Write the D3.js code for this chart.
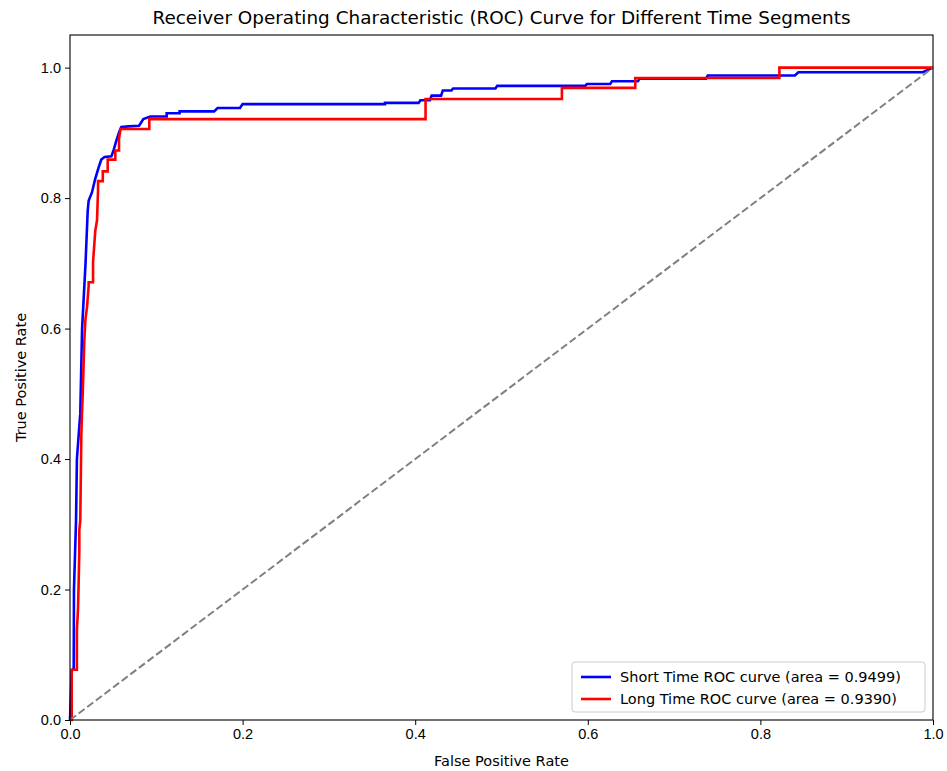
<!DOCTYPE html>
<html lang="en">
<head>
  <meta charset="UTF-8">
  <title>ROC Curve</title>
  <script src="https://d3js.org/d3.v7.min.js"></script>
  <style>
    body {
      margin: 0;
      padding: 0;
      background: #fff;
      font-family: "DejaVu Sans", sans-serif;
    }
    .tick text {
      font-size: 14.5px;
      fill: #000;
    }
  </style>
</head>
<body>
  <div id="chart"></div>

  <script>
    // Short time ROC curve: false positive rate / true positive rate
    const shortFpr = [0, 0.002, 0.0043, 0.0046, 0.007, 0.008, 0.0119, 0.014, 0.018, 0.0205, 0.0216,
      0.0255, 0.0293, 0.0332, 0.0363, 0.040, 0.048, 0.0506, 0.0537, 0.0572, 0.0595, 0.068, 0.080,
      0.085, 0.093, 0.112, 0.112, 0.127, 0.127, 0.167, 0.171, 0.197, 0.200, 0.365, 0.365, 0.404,
      0.406, 0.417, 0.419, 0.430, 0.432, 0.442, 0.444, 0.493, 0.495, 0.597, 0.599, 0.626, 0.628,
      0.658, 0.660, 0.737, 0.739, 0.840, 0.844, 0.988, 1.0];
    const shortTpr = [0, 0.075, 0.08, 0.2, 0.306, 0.4, 0.47, 0.6, 0.7, 0.78, 0.796,
      0.809, 0.830, 0.847, 0.859, 0.863, 0.864, 0.874, 0.888, 0.902, 0.909, 0.910, 0.911,
      0.921, 0.925, 0.925, 0.930, 0.930, 0.933, 0.933, 0.938, 0.938, 0.944, 0.944, 0.946, 0.946,
      0.950, 0.950, 0.957, 0.957, 0.965, 0.965, 0.968, 0.968, 0.972, 0.972, 0.975, 0.975, 0.979,
      0.979, 0.983, 0.983, 0.988, 0.988, 0.993, 0.993, 1.0];

    // Long time ROC curve
    const longFpr = [0, 0.002, 0.002, 0.008, 0.008, 0.0093, 0.010, 0.0108, 0.0108, 0.0119, 0.0124,
      0.0131, 0.0139, 0.0147, 0.0166, 0.0178, 0.0197, 0.0216, 0.0216, 0.0267, 0.0267, 0.0293,
      0.0313, 0.0325, 0.0325, 0.038, 0.038, 0.0437, 0.0437, 0.0525, 0.0525, 0.0568, 0.0568,
      0.0585, 0.0919, 0.0919, 0.412, 0.412, 0.570, 0.570, 0.655, 0.655, 0.822, 0.822, 1.0];
    const longTpr = [0, 0, 0.077, 0.077, 0.138, 0.171, 0.209, 0.26, 0.291, 0.306, 0.357,
      0.434, 0.470, 0.498, 0.582, 0.613, 0.633, 0.665, 0.671, 0.671, 0.702, 0.75,
      0.766, 0.812, 0.826, 0.826, 0.841, 0.841, 0.859, 0.859, 0.873, 0.873, 0.891,
      0.906, 0.906, 0.921, 0.921, 0.952, 0.952, 0.969, 0.969, 0.984, 0.984, 1.0, 1.0];

    const seriesNames = ["Short Time ROC curve (area = 0.9499)", "Long Time ROC curve (area = 0.9390)"];
    const seriesColors = ["blue", "red"];
    const xTicks = [0, 0.2, 0.4, 0.6, 0.8, 1.0];
    const yTicks = [0, 0.2, 0.4, 0.6, 0.8, 1.0];

    const width = 947;
    const height = 771;
    const margin = { top: 35, right: 14, bottom: 51, left: 70 };

    const svg = d3.select("#chart")
      .append("svg")
      .attr("width", width)
      .attr("height", height);

    const x = d3.scaleLinear()
      .domain([0, 1])
      .range([margin.left, width - margin.right]);

    const y = d3.scaleLinear()
      .domain([0, 1.05])
      .range([height - margin.bottom, margin.top]);

    // Axes
    svg.append("g")
      .attr("transform", `translate(0, ${height - margin.bottom})`)
      .call(d3.axisBottom(x).tickValues(xTicks).tickFormat(d3.format(".1f")).tickSize(5).tickPadding(4))
      .call(g => g.select(".domain").remove());

    svg.append("g")
      .attr("transform", `translate(${margin.left}, 0)`)
      .call(d3.axisLeft(y).tickValues(yTicks).tickFormat(d3.format(".1f")).tickSize(5).tickPadding(4))
      .call(g => g.select(".domain").remove());

    svg.selectAll(".tick line").attr("stroke", "#000").attr("stroke-width", 1);

    // Curves
    const line = d3.line()
      .x(d => x(d[0]))
      .y(d => y(d[1]));

    svg.append("path")
      .datum(d3.zip(shortFpr, shortTpr))
      .attr("fill", "none")
      .attr("stroke", seriesColors[0])
      .attr("stroke-width", 2.6)
      .attr("d", line);

    svg.append("path")
      .datum(d3.zip(longFpr, longTpr))
      .attr("fill", "none")
      .attr("stroke", seriesColors[1])
      .attr("stroke-width", 2.6)
      .attr("d", line);

    // Chance line
    svg.append("path")
      .datum([[0, 0], [1, 1]])
      .attr("fill", "none")
      .attr("stroke", "gray")
      .attr("stroke-width", 2)
      .attr("stroke-dasharray", "7.5,3.3")
      .attr("d", line);

    // Frame
    svg.append("rect")
      .attr("x", margin.left)
      .attr("y", margin.top)
      .attr("width", width - margin.left - margin.right)
      .attr("height", height - margin.top - margin.bottom)
      .attr("fill", "none")
      .attr("stroke", "#000")
      .attr("stroke-width", 1.1);

    // Title and labels
    svg.append("text")
      .attr("x", (margin.left + width - margin.right) / 2)
      .attr("y", 24)
      .attr("text-anchor", "middle")
      .attr("font-size", 18.4)
      .text("Receiver Operating Characteristic (ROC) Curve for Different Time Segments");

    svg.append("text")
      .attr("x", (margin.left + width - margin.right) / 2)
      .attr("y", 766)
      .attr("text-anchor", "middle")
      .attr("font-size", 14.5)
      .text("False Positive Rate");

    svg.append("text")
      .attr("transform", `translate(26, ${(margin.top + height - margin.bottom) / 2}) rotate(-90)`)
      .attr("text-anchor", "middle")
      .attr("font-size", 14.5)
      .text("True Positive Rate");

    // Legend
    const legend = svg.append("g").attr("transform", "translate(572, 662)");
    legend.append("rect")
      .attr("width", 353)
      .attr("height", 50)
      .attr("rx", 3)
      .attr("fill", "#fff")
      .attr("fill-opacity", 0.8)
      .attr("stroke", "#ccc");

    seriesNames.forEach((name, i) => {
      legend.append("line")
        .attr("x1", 9).attr("x2", 39)
        .attr("y1", 15 + i * 22).attr("y2", 15 + i * 22)
        .attr("stroke", seriesColors[i])
        .attr("stroke-width", 2.6);
      legend.append("text")
        .attr("x", 48)
        .attr("y", 20 + i * 22)
        .attr("font-size", 14.5)
        .text(name);
    });
  </script>
</body>
</html>
